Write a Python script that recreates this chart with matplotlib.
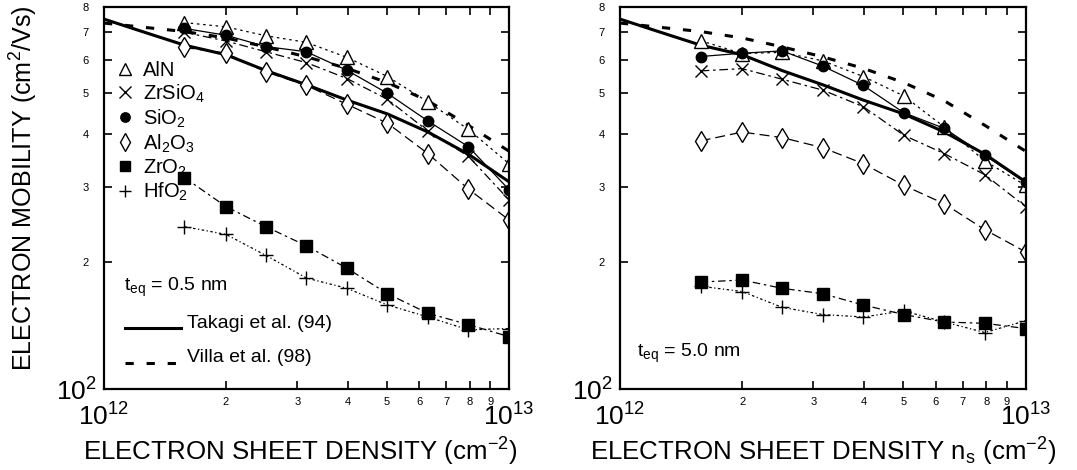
import numpy as np
import matplotlib
matplotlib.use("Agg")
import matplotlib.pyplot as plt
from matplotlib.lines import Line2D
from matplotlib.legend_handler import HandlerLine2D
from matplotlib.ticker import LogLocator, FuncFormatter

plt.rcParams['font.family'] = ['Liberation Sans', 'DejaVu Sans']
plt.rcParams['mathtext.fontset'] = 'custom'
plt.rcParams['mathtext.rm'] = 'Liberation Sans'
plt.rcParams['mathtext.it'] = 'Liberation Sans:italic'

# sheet density (cm^-2)
ns = [1.58e12, 2.0e12, 2.51e12, 3.16e12, 3.98e12, 5.01e12, 6.31e12, 7.94e12, 1.0e13]
ns_model = [1.0e12, 1.26e12, 1.58e12, 2.0e12, 2.51e12, 3.16e12, 3.98e12, 5.01e12, 6.31e12, 7.94e12, 1.0e13]

# universal mobility curves (cm^2/Vs)
takagi = [749, 697, 650, 617, 566, 524, 482, 447, 405, 359, 309]
villa = [733, 716, 700, 676, 644, 610, 573, 530, 480, 420, 365]

# t_eq = 0.5 nm
aln_05 = [735, 718, 684, 660, 608, 548, 477, 411, 341]
zrsio4_05 = [697, 665, 627, 591, 542, 484, 407, 355, 280]
sio2_05 = [712, 686, 645, 627, 567, 500, 430, 374, 296]
al2o3_05 = [642, 622, 562, 522, 471, 425, 360, 297, 251]
zro2_05 = [316, 270, 242, 218, 193, 168, 151, 142, 133]
hfo2_05 = [242, 232, 207, 183, 173, 158, 148, 138, 139]

# t_eq = 5.0 nm
aln_50 = [666, 621, 625, 597, 548, 493, 416, 346, 303]
zrsio4_50 = [565, 572, 540, 509, 465, 398, 360, 321, 270]
sio2_50 = [611, 622, 630, 580, 522, 450, 413, 357, 308]
al2o3_50 = [386, 405, 393, 372, 341, 303, 274, 238, 211]
zro2_50 = [179, 181, 173, 168, 158, 150, 144, 143, 139]
hfo2_50 = [175, 170, 156, 150, 148, 153, 144, 136, 145]

labels = ['AlN', 'ZrSiO$_4$', 'SiO$_2$', 'Al$_2$O$_3$', 'ZrO$_2$', 'HfO$_2$']

styles = [
    dict(marker='^', mfc='white', ms=10, ls=(0, (2, 3))),
    dict(marker='x', mfc='black', ms=9, ls=(0, (7, 3, 2, 3))),
    dict(marker='o', mfc='black', ms=7.5, ls='-'),
    dict(marker='d', mfc='white', ms=10, ls=(0, (8, 4))),
    dict(marker='s', mfc='black', ms=8, ls=(0, (6, 3, 2, 3))),
    dict(marker='+', mfc='black', ms=10, ls=(0, (2, 2, 1, 2))),
]
villa_ls = (0, (2.7, 4.2))

fig = plt.figure(figsize=(10.77, 4.70), dpi=100)
ax1 = fig.add_axes([0.0966, 0.1723, 0.376, 0.8128])
ax2 = fig.add_axes([0.5757, 0.1723, 0.3765, 0.8128])


def minor_digit(v, pos):
    d = v / 10 ** np.floor(np.log10(v) + 1e-9)
    return "%d" % round(d)


class LowLine(HandlerLine2D):
    # legend line sits near the text baseline, as in the original
    def create_artists(self, legend, orig_handle, xdescent, ydescent, width, height, fontsize, trans):
        return super().create_artists(legend, orig_handle, xdescent, ydescent + 1.1 * height,
                                      width, height, fontsize, trans)


def draw(ax, series, teq, tx, ty):
    ax.plot(ns_model, villa, color='black', lw=2.2, ls=villa_ls)
    ax.plot(ns_model, takagi, color='black', lw=2.2, ls='-')
    for vals, st in zip(series, styles):
        ax.plot(ns, vals, color='black', lw=0.9, ls=st['ls'], marker=st['marker'],
                mfc=st['mfc'], mec='black', ms=st['ms'], mew=1.0)
    ax.set_xscale('log')
    ax.set_yscale('log')
    ax.set_xlim(1e12, 1e13)
    ax.set_ylim(100, 800)
    for axis in (ax.xaxis, ax.yaxis):
        axis.set_minor_locator(LogLocator(base=10, subs=np.arange(2, 10)))
        axis.set_minor_formatter(FuncFormatter(minor_digit))
    ax.tick_params(which='both', direction='in', top=True, right=True, width=1.2)
    ax.tick_params(which='major', length=8, labelsize=19)
    ax.tick_params(which='minor', length=6, labelsize=8)
    ax.tick_params(axis='x', which='major', pad=10)
    ax.tick_params(axis='x', which='minor', pad=6)
    ax.tick_params(axis='y', which='major', pad=5)
    ax.tick_params(axis='y', which='minor', pad=11)
    for sp in ax.spines.values():
        sp.set_linewidth(1.6)
    ax.text(tx, ty, r'$\mathrm{t}_{\mathrm{eq}}$ = %s nm' % teq,
            transform=ax.transAxes, fontsize=14, ha='left', va='bottom')


draw(ax1, [aln_05, zrsio4_05, sio2_05, al2o3_05, zro2_05, hfo2_05], '0.5', 0.05, 0.236)
draw(ax2, [aln_50, zrsio4_50, sio2_50, al2o3_50, zro2_50, hfo2_50], '5.0', 0.042, 0.063)

# material legend (markers only)
handles = [Line2D([], [], ls='none', marker=st['marker'], mfc=st['mfc'], mec='black',
                  color='black', ms=st['ms'] * 0.9, mew=1.0) for st in styles]
leg1 = ax1.legend(handles, labels, loc='upper left', bbox_to_anchor=(0.013, 0.88),
                  frameon=False, fontsize=14.5, handlelength=0.8, handletextpad=0.47,
                  labelspacing=0.13, borderaxespad=0)
ax1.add_artist(leg1)

model_handles = [Line2D([], [], color='black', lw=2.2, ls='-'),
                 Line2D([], [], color='black', lw=2.2, ls=villa_ls)]
ax1.legend(model_handles, ['Takagi et al. (94)', 'Villa et al. (98)'], loc='lower left',
           bbox_to_anchor=(0.032, 0.04), frameon=False, fontsize=14, handlelength=2.9,
           handletextpad=0.3, labelspacing=0.86, borderaxespad=0,
           handler_map={Line2D: LowLine()})

fig.text(0.0225, 0.6, 'ELECTRON MOBILITY (cm$^2$/Vs)', rotation=90, ha='center',
         va='center', fontsize=18.1)
ax1.set_xlabel('ELECTRON SHEET DENSITY (cm$^{-2}$)', fontsize=18.6)
ax1.xaxis.set_label_coords(0.485, -0.123)
ax2.set_xlabel('ELECTRON SHEET DENSITY n$_\\mathrm{s}$ (cm$^{-2}$)', fontsize=18.6)
ax2.xaxis.set_label_coords(0.5, -0.123)

fig.savefig('out.png', dpi=100)
